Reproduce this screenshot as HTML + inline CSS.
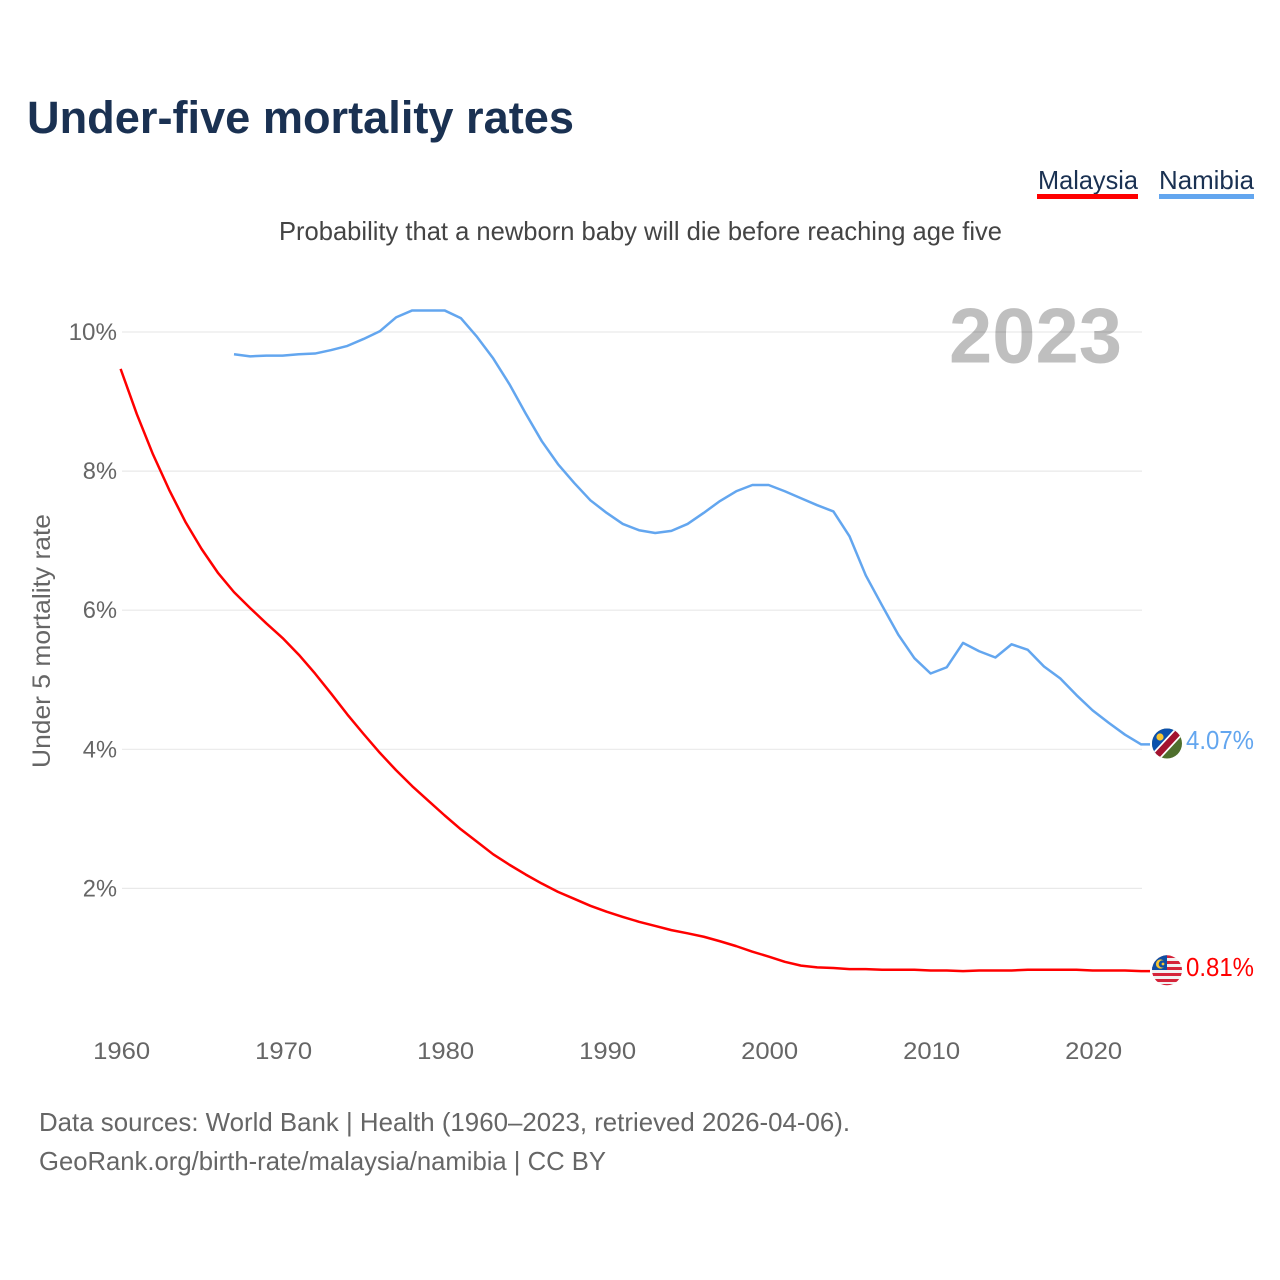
<!DOCTYPE html>
<html lang="en">
<head>
<meta charset="utf-8">
<title>Under-five mortality rates</title>
<style>
html,body{margin:0;padding:0;background:#fff;}
svg{display:block;font-family:"Liberation Sans",Arial,sans-serif;}
</style>
</head>
<body>
<svg id="chart" width="1280" height="1280" viewBox="0 0 1280 1280" xmlns="http://www.w3.org/2000/svg">
  <rect width="1280" height="1280" fill="#ffffff"/>
  <defs>
    <clipPath id="clip-na"><circle cx="1167" cy="743.5" r="15"/></clipPath>
    <clipPath id="clip-my"><circle cx="1167" cy="970.3" r="15"/></clipPath>
  </defs>

  <text x="27" y="133" font-size="45" font-weight="700" fill="#1a3152" textLength="547" lengthAdjust="spacingAndGlyphs">Under-five mortality rates</text>

  <g>
    <text x="1038" y="189" font-size="26" fill="#1a3152" textLength="100" lengthAdjust="spacingAndGlyphs">Malaysia</text>
    <rect x="1037" y="194" width="101" height="5" fill="#ff0000"/>
  </g>
  <g>
    <text x="1159" y="189" font-size="26" fill="#1a3152" textLength="95" lengthAdjust="spacingAndGlyphs">Namibia</text>
    <rect x="1159" y="194" width="95" height="5" fill="#63a6ef"/>
  </g>

  <text x="279" y="240" font-size="26" fill="#444444" textLength="723" lengthAdjust="spacingAndGlyphs">Probability that a newborn baby will die before reaching age five</text>

  <text transform="translate(50 768) rotate(-90)" font-size="25" fill="#666666" textLength="254" lengthAdjust="spacingAndGlyphs">Under 5 mortality rate</text>

  <g id="grid"></g>
  <g id="y-ticks"></g>
  <g id="x-ticks"></g>

  <text x="949" y="362.5" font-size="78" font-weight="700" fill="#000000" fill-opacity="0.25" textLength="173" lengthAdjust="spacingAndGlyphs">2023</text>

  <g id="series"></g>

  <g clip-path="url(#clip-na)">
    <rect x="1150" y="726" width="34" height="35" fill="#4f6f2d"/>
    <polygon points="1150,726 1184,726 1150,761" fill="#0b50ad"/>
    <line x1="1148" y1="765" x2="1186" y2="724" stroke="#ffffff" stroke-width="10"/>
    <line x1="1148" y1="765" x2="1186" y2="724" stroke="#a3122f" stroke-width="6.5"/>
    <circle cx="1160" cy="737" r="3.6" fill="#f7c531"/>
  </g>
  <g clip-path="url(#clip-my)">
    <rect x="1150" y="954" width="34" height="33" fill="#f2f2f2"/>
    <rect x="1150" y="955" width="34" height="3" fill="#d5243a"/>
    <rect x="1150" y="961" width="34" height="3" fill="#d5243a"/>
    <rect x="1150" y="967" width="34" height="3" fill="#d5243a"/>
    <rect x="1150" y="973" width="34" height="3" fill="#d5243a"/>
    <rect x="1150" y="979" width="34" height="3" fill="#d5243a"/>
    <rect x="1150" y="984" width="34" height="3" fill="#d5243a"/>
    <rect x="1150" y="954" width="17" height="16" fill="#0f4ea3"/>
    <circle cx="1160.5" cy="964" r="4.6" fill="#f7c531"/>
    <circle cx="1162.3" cy="964" r="3.6" fill="#0f4ea3"/>
    <circle cx="1163" cy="964" r="1.4" fill="#f7c531"/>
  </g>

  <text x="1186" y="749" font-size="26" fill="#63a6ef" textLength="68" lengthAdjust="spacingAndGlyphs">4.07%</text>
  <text x="1186" y="976" font-size="26" fill="#ff0000" textLength="68" lengthAdjust="spacingAndGlyphs">0.81%</text>

  <text x="39" y="1131" font-size="26" fill="#666666" textLength="811" lengthAdjust="spacingAndGlyphs">Data sources: World Bank | Health (1960–2023, retrieved 2026-04-06).</text>
  <text x="39" y="1170" font-size="26" fill="#666666" textLength="567" lengthAdjust="spacingAndGlyphs">GeoRank.org/birth-rate/malaysia/namibia | CC BY</text>
</svg>

<script>
const malaysiaStartYear = 1960;
const namibiaStartYear = 1967;
const malaysiaValues = [9.47,8.82,8.24,7.73,7.27,6.88,6.54,6.26,6.03,5.81,5.60,5.36,5.09,4.80,4.50,4.22,3.95,3.70,3.47,3.26,3.05,2.85,2.67,2.49,2.34,2.20,2.07,1.95,1.85,1.75,1.665,1.59,1.52,1.46,1.40,1.354,1.305,1.24,1.17,1.09,1.02,0.945,0.89,0.865,0.855,0.84,0.84,0.83,0.83,0.83,0.82,0.82,0.81,0.82,0.82,0.82,0.83,0.83,0.83,0.83,0.82,0.82,0.82,0.81];
const namibiaValues = [9.68,9.65,9.66,9.66,9.68,9.69,9.74,9.80,9.90,10.01,10.21,10.31,10.31,10.31,10.20,9.93,9.62,9.25,8.83,8.43,8.10,7.83,7.58,7.40,7.24,7.15,7.11,7.14,7.24,7.40,7.57,7.71,7.80,7.80,7.71,7.61,7.51,7.42,7.06,6.50,6.07,5.65,5.31,5.09,5.18,5.53,5.41,5.32,5.51,5.43,5.19,5.02,4.78,4.56,4.38,4.21,4.07];
const xTickYears = [1960,1970,1980,1990,2000,2010,2020];
const yTickValues = [2,4,6,8,10];

const SVGNS = 'http://www.w3.org/2000/svg';
const xOf = function (year) { return 120.6 + 16.2 * (year - 1960); };
const yOf = function (value) { return 1027.5 - 69.55 * value; };
const tailEndX = 1150;

const grid = document.getElementById('grid');
const yTicks = document.getElementById('y-ticks');
const xTicks = document.getElementById('x-ticks');
const series = document.getElementById('series');

yTickValues.forEach(function (v) {
  const line = document.createElementNS(SVGNS, 'line');
  
  
  line.setAttribute('x1', 122);
  line.setAttribute('x2', 1142);
  line.setAttribute('y1', yOf(v));
  line.setAttribute('y2', yOf(v));
  line.setAttribute('stroke', '#e9e9e9');
  line.setAttribute('stroke-width', 1.2);
  grid.appendChild(line);

  const label = String(v) + '%';
  const t = document.createElementNS(SVGNS, 'text');
  
  
  t.setAttribute('x', 117);
  t.setAttribute('y', yOf(v) + 8);
  t.setAttribute('text-anchor', 'end');
  t.setAttribute('font-size', 24);
  t.setAttribute('fill', '#666666');
  t.setAttribute('textLength', 14.2 * String(v).length + 20);
  t.setAttribute('lengthAdjust', 'spacingAndGlyphs');
  t.textContent = label;
  yTicks.appendChild(t);
});

xTickYears.forEach(function (year) {
  const t = document.createElementNS(SVGNS, 'text');
  
  
  t.setAttribute('x', xOf(year) + 1);
  t.setAttribute('y', 1059);
  t.setAttribute('text-anchor', 'middle');
  t.setAttribute('font-size', 24);
  t.setAttribute('fill', '#666666');
  t.setAttribute('textLength', 57);
  t.setAttribute('lengthAdjust', 'spacingAndGlyphs');
  t.textContent = String(year);
  xTicks.appendChild(t);
});

function pathFor(values, startYear) {
  const pts = values.map(function (v, i) {
    return xOf(startYear + i).toFixed(2) + ',' + yOf(v).toFixed(2);
  });
  pts.push(tailEndX + ',' + yOf(values[values.length - 1]).toFixed(2));
  return 'M' + pts.join('L');
}

const namibiaLine = document.createElementNS(SVGNS, 'path');


namibiaLine.setAttribute('d', pathFor(namibiaValues, namibiaStartYear));
namibiaLine.setAttribute('fill', 'none');
namibiaLine.setAttribute('stroke', '#63a6ef');
namibiaLine.setAttribute('stroke-width', 2.5);
namibiaLine.setAttribute('stroke-linejoin', 'round');
series.appendChild(namibiaLine);

const malaysiaLine = document.createElementNS(SVGNS, 'path');


malaysiaLine.setAttribute('d', pathFor(malaysiaValues, malaysiaStartYear));
malaysiaLine.setAttribute('fill', 'none');
malaysiaLine.setAttribute('stroke', '#ff0000');
malaysiaLine.setAttribute('stroke-width', 2.5);
malaysiaLine.setAttribute('stroke-linejoin', 'round');
series.appendChild(malaysiaLine);
</script>
</body>
</html>
